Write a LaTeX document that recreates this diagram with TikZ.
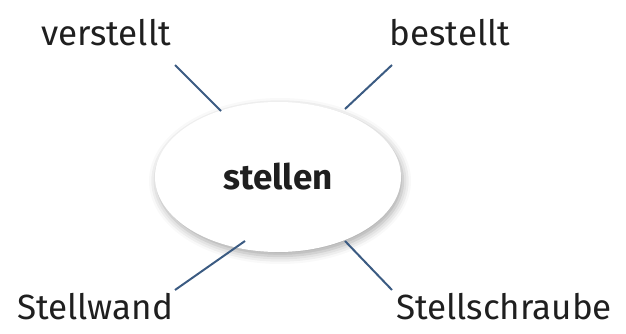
\documentclass[tikz,border=0pt]{standalone}
\usepackage{fontspec}
\setmainfont{Fira Sans}
\usetikzlibrary{shapes.geometric, shadows.blur}
\definecolor{strich}{HTML}{3B5B82}

\begin{document}
\begin{tikzpicture}[x=1pt, y=-1pt,
    wort/.style={font=\fontsize{35}{40}\selectfont, text=black!88, inner sep=0pt},
    kern/.style={ellipse, fill=white, minimum width=246pt, minimum height=150pt,
        font=\fontsize{35}{40}\selectfont\bfseries, text=black!88,
        blur shadow={shadow xshift=2pt, shadow yshift=-4pt, shadow opacity=35, shadow blur radius=8pt}},
    ast/.style={strich, line width=2pt}]

    \useasboundingbox (0,0) rectangle (626,334);

    % Mitte
    \node[kern] (stellen) at (278,177) {stellen};

    % Woerter
    \node[wort] (verstellt)     at (106,33)  {verstellt};
    \node[wort] (bestellt)      at (450,33)  {bestellt};
    \node[wort] (stellwand)     at (95,307)  {Stellwand};
    \node[wort] (stellschraube) at (504,307) {Stellschraube};

    % Enden der Striche
    \coordinate (a1) at (175,65);  \coordinate (a2) at (221,111);
    \coordinate (b1) at (392,65);  \coordinate (b2) at (345,109);
    \coordinate (c1) at (245,241); \coordinate (c2) at (175,290);
    \coordinate (d1) at (345,241); \coordinate (d2) at (392,290);

    % Striche
    \draw[ast] (a1) -- (a2);
    \draw[ast] (b1) -- (b2);
    \draw[ast] (c1) -- (c2);
    \draw[ast] (d1) -- (d2);

\end{tikzpicture}
\end{document}
